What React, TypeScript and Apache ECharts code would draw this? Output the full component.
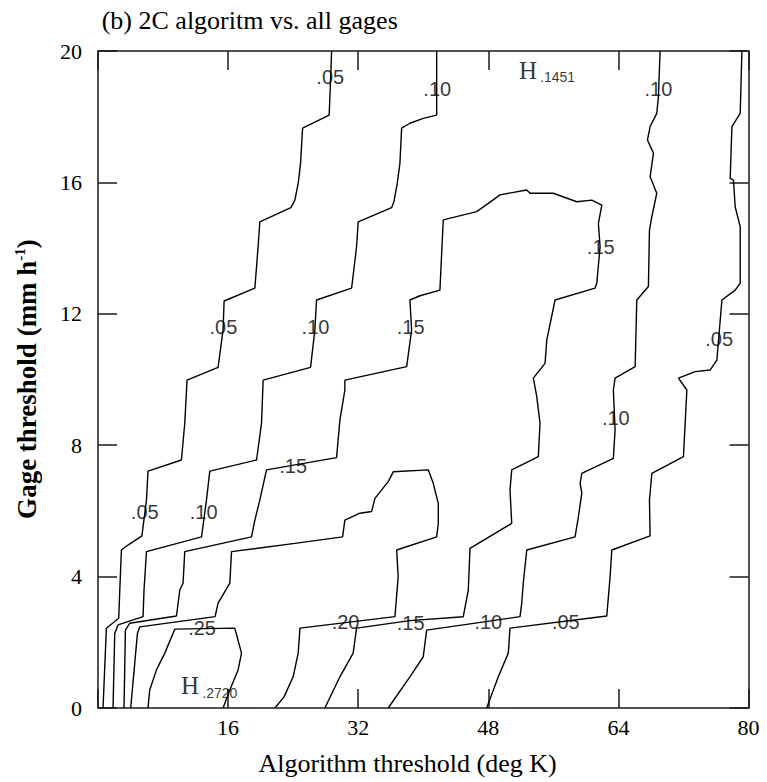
import React, { useEffect, useRef } from "react";
import * as echarts from "echarts";

// ---- axis ticks ----
const xTicks = [0, 16, 32, 48, 64, 80];
const yTicks = [0, 4, 8, 12, 16, 20];

// ---- contour lines [algorithm threshold, gage threshold] ----
const c05Left = [
  [28.73, 20], [28.6, 19.12], [28.43, 18.05], [25.16, 17.65], [24.91, 16.58], [24.62, 15.97],
  [24.21, 15.46], [23.72, 15.23], [19.9, 14.8], [19.69, 14.04], [19.29, 12.78], [15.51, 12.39],
  [15.38, 11.51], [14.77, 10.37], [10.95, 9.98], [10.67, 8.67], [10.26, 7.55], [6.15, 7.21],
  [5.96, 6.33], [5.4, 5.24], [3.69, 4.96], [2.88, 4.81], [2.68, 3.59], [2.55, 2.73],
  [1.03, 2.43], [0.62, 0],
];
const c10Left = [
  [41.65, 20], [41.65, 18.05], [40.0, 17.95], [38.36, 17.8], [37.34, 17.65], [37.13, 16.58],
  [36.8, 15.97], [36.39, 15.41], [36.11, 15.23], [32.0, 14.8], [31.8, 14.04], [31.19, 12.78],
  [26.88, 12.42], [26.67, 11.51], [26.14, 10.37], [20.31, 9.98], [20.11, 8.67], [19.5, 7.55],
  [13.75, 7.21], [13.34, 6.33], [12.73, 5.21], [5.96, 4.76], [5.66, 3.59], [5.54, 2.78],
  [2.46, 2.53], [2.06, 2.27], [1.85, 0],
];
const c15 = [
  [3.2, 0], [3.37, 2.37], [3.9, 2.58], [9.65, 2.8], [10.06, 3.59], [10.46, 3.8], [10.67, 4.76],
  [18.88, 5.21], [19.29, 5.72], [19.9, 6.33], [20.72, 7.25], [29.34, 7.62], [29.75, 8.77],
  [30.36, 9.68], [30.36, 9.98], [37.96, 10.39], [38.57, 11.51], [38.36, 12.42], [39.6, 12.55],
  [42.05, 12.72], [42.46, 14.86], [46.57, 15.11], [48.0, 15.36], [49.44, 15.62], [52.73, 15.77],
  [53.13, 15.67], [56.0, 15.67], [58.88, 15.41], [60.73, 15.46], [61.96, 15.31], [61.54, 14.75],
  [61.75, 14.04], [61.34, 12.93], [61.13, 12.78], [56.21, 12.42], [55.19, 11.2], [54.98, 10.49],
  [53.54, 10.04], [53.96, 9.48], [54.36, 8.67], [54.15, 7.65], [50.88, 7.25], [50.67, 6.64],
  [50.88, 5.62], [45.75, 4.86], [45.54, 3.59], [44.92, 2.78], [38.36, 2.66], [31.8, 2.43],
  [31.38, 1.67], [29.75, 0.95], [27.9, 0],
];
const c20 = [
  [4.02, 0], [4.85, 2.27], [5.13, 2.47], [14.4, 2.78], [14.77, 3.19], [16.21, 3.8], [16.42, 4.76],
  [24.21, 5.01], [30.08, 5.21], [30.36, 5.72], [32.21, 5.93], [33.65, 5.98], [34.06, 6.38],
  [35.69, 6.89], [36.31, 7.19], [40.62, 7.25], [41.23, 6.84], [41.85, 6.23], [41.85, 5.62],
  [41.65, 5.21], [36.73, 4.81], [36.92, 4.0], [36.52, 2.78], [24.84, 2.43], [24.62, 1.67],
  [24.0, 0.95], [22.86, 0.33], [21.75, 0],
];
const c25 = [
  [6.15, 0], [6.36, 0.55], [7.19, 1.16], [8.21, 1.67], [9.44, 2.4], [16.82, 2.43], [17.65, 1.67],
  [17.23, 1.16], [16.21, 0.55], [15.38, 0],
];
const c10Right = [
  [35.69, 0], [38.36, 0.95], [40.0, 1.56], [40.42, 2.37], [51.9, 2.78], [52.11, 3.19], [52.3, 3.8],
  [52.73, 4.81], [58.67, 5.21], [59.08, 5.82], [59.5, 6.54], [59.29, 6.84], [59.5, 7.14],
  [63.38, 7.6], [63.59, 8.46], [63.38, 9.68], [63.59, 10.04], [66.06, 10.39],
  [66.26, 12.42], [67.69, 12.83], [67.82, 14.55], [68.11, 14.96], [68.72, 15.67], [67.9, 16.17],
  [68.31, 16.89], [67.57, 17.29], [67.9, 17.7], [68.72, 18.1], [68.92, 18.61], [69.13, 20],
];
const c05Right = [
  [47.8, 0], [49.23, 0.95], [50.46, 1.67], [50.67, 2.43], [62.57, 2.8], [62.98, 4.0], [63.19, 4.81],
  [67.9, 5.24], [67.82, 6.33], [68.11, 7.14], [72.0, 7.65], [72.21, 8.67], [72.42, 9.68],
  [71.38, 10.04], [73.44, 10.24], [75.29, 10.29], [76.11, 10.59], [76.73, 12.42], [78.36, 12.72],
  [78.98, 12.93], [78.98, 14.65], [78.36, 15.26], [78.15, 16.07], [77.75, 16.12], [77.96, 17.7],
  [78.98, 18.1], [79.19, 20],
];
const contours = [c05Left, c10Left, c15, c20, c25, c10Right, c05Right];

// ---- contour value labels ----
const labelText = [
  ".05", ".10", ".10", ".15", ".05", ".10", ".15", ".05", ".10",
  ".15", ".05", ".10", ".25", ".20", ".15", ".10", ".05",
];
const labelX = [28.56, 41.72, 68.92, 61.83, 15.43, 26.75, 38.45, 76.39, 63.68, 24.0, 5.75, 13.0, 12.8, 30.45, 38.45, 48.0, 57.53];
const labelY = [19.22, 18.83, 18.83, 14.03, 11.59, 11.59, 11.59, 11.22, 8.82, 7.37, 5.98, 5.98, 2.43, 2.62, 2.58, 2.63, 2.63];

// ---- maxima ----
const highMark = ["H", "H"];
const highValue = [".1451", ".2720"];
const highX = [52.89, 11.32];
const highY = [19.42, 0.685];
const highValueX = [56.52, 14.98];
const highValueY = [19.21, 0.45];

const SERIF = '"Liberation Serif", "Times New Roman", Times, serif';
const SANS = '"Liberation Sans", Arial, Helvetica, sans-serif';

export default function App() {
  const ref = useRef<HTMLDivElement>(null);

  useEffect(() => {
    if (!ref.current) return;
    const chart = echarts.init(ref.current, null, { renderer: "svg" });

    const axisLineStyle = { color: "#1a1a1a", width: 1.5 };
    const xStep = xTicks[1] - xTicks[0];
    const yStep = yTicks[1] - yTicks[0];

    const xBase = {
      type: "value" as const,
      min: xTicks[0],
      max: xTicks[xTicks.length - 1],
      interval: xStep,
      splitLine: { show: false },
      axisLine: { show: true, onZero: false, lineStyle: axisLineStyle },
      axisTick: { show: true, inside: true, length: 19, lineStyle: axisLineStyle },
    };
    const yBase = {
      type: "value" as const,
      min: yTicks[0],
      max: yTicks[yTicks.length - 1],
      interval: yStep,
      splitLine: { show: false },
      axisLine: { show: true, onZero: false, lineStyle: axisLineStyle },
      axisTick: { show: true, inside: true, length: 19, lineStyle: axisLineStyle },
    };

    const lineSeries = contours.map((c) => ({
      type: "line",
      data: c,
      showSymbol: false,
      symbol: "none",
      clip: false,
      silent: true,
      lineStyle: { color: "#000", width: 1.4 },
      z: 3,
    }));

    const labelSeries = {
      type: "scatter",
      silent: true,
      symbolSize: 1,
      itemStyle: { color: "rgba(0,0,0,0)" },
      z: 5,
      data: labelText.map((t, i) => ({ value: [labelX[i], labelY[i]], name: t })),
      label: {
        show: true,
        position: "inside",
        formatter: "{b}",
        fontFamily: SANS,
        fontSize: 20,
        color: "#000",
      },
    };

    const highSeries = {
      type: "scatter",
      silent: true,
      symbolSize: 1,
      itemStyle: { color: "rgba(0,0,0,0)" },
      z: 5,
      data: [
        ...highMark.map((t, i) => ({
          value: [highX[i], highY[i]],
          name: t,
          label: { show: true, position: "inside", formatter: "{b}", fontFamily: SERIF, fontSize: 25, color: "#000" },
        })),
        ...highValue.map((t, i) => ({
          value: [highValueX[i], highValueY[i]],
          name: t,
          label: { show: true, position: "inside", formatter: "{b}", fontFamily: SANS, fontSize: 14, color: "#000" },
        })),
      ],
    };

    chart.setOption({
      animation: false,
      backgroundColor: "#fff",
      grid: { left: 98, right: 18.5, top: 51, bottom: 74, containLabel: false },
      xAxis: [
        {
          ...xBase,
          position: "bottom",
          axisLabel: {
            show: true,
            margin: 8,
            fontFamily: SERIF,
            fontSize: 22,
            color: "#000",
            showMinLabel: true,
            showMaxLabel: true,
            formatter: (v: number) => (v === xTicks[0] ? "" : String(v)),
          },
        },
        { ...xBase, position: "top", axisLabel: { show: false } },
      ],
      yAxis: [
        {
          ...yBase,
          position: "left",
          axisLabel: {
            show: true,
            margin: 16,
            fontFamily: SERIF,
            fontSize: 22,
            color: "#000",
            showMinLabel: true,
            showMaxLabel: true,
          },
        },
        { ...yBase, position: "right", axisLabel: { show: false } },
      ],
      series: [...lineSeries, labelSeries, highSeries],
      graphic: [
        {
          type: "text",
          x: 101.7,
          y: 20,
          silent: true,
          style: {
            text: "(b) 2C algoritm vs. all gages",
            fontFamily: SERIF,
            fontSize: 26,
            fill: "#000",
            align: "left",
            verticalAlign: "middle",
          },
        },
        {
          type: "text",
          x: 407.5,
          y: 763,
          silent: true,
          style: {
            text: "Algorithm threshold (deg K)",
            fontFamily: SERIF,
            fontSize: 26,
            fill: "#000",
            align: "center",
            verticalAlign: "middle",
          },
        },
        {
          type: "text",
          x: 27,
          y: 379,
          rotation: Math.PI / 2,
          silent: true,
          style: {
            text: "{a|Gage threshold (mm h}{b|-1}{a|)}",
            align: "center",
            verticalAlign: "middle",
            rich: {
              a: { fontFamily: SERIF, fontSize: 27, fontWeight: "bold", fill: "#000", lineHeight: 30 },
              b: { fontFamily: SERIF, fontSize: 15, fontWeight: "bold", fill: "#000", verticalAlign: "top", lineHeight: 15 },
            },
          },
        },
      ],
    });

    return () => chart.dispose();
  }, []);

  return (
    <div
      ref={ref}
      style={{ position: "fixed", left: 0, top: 0, width: 767, height: 782, background: "#fff" }}
    />
  );
}
